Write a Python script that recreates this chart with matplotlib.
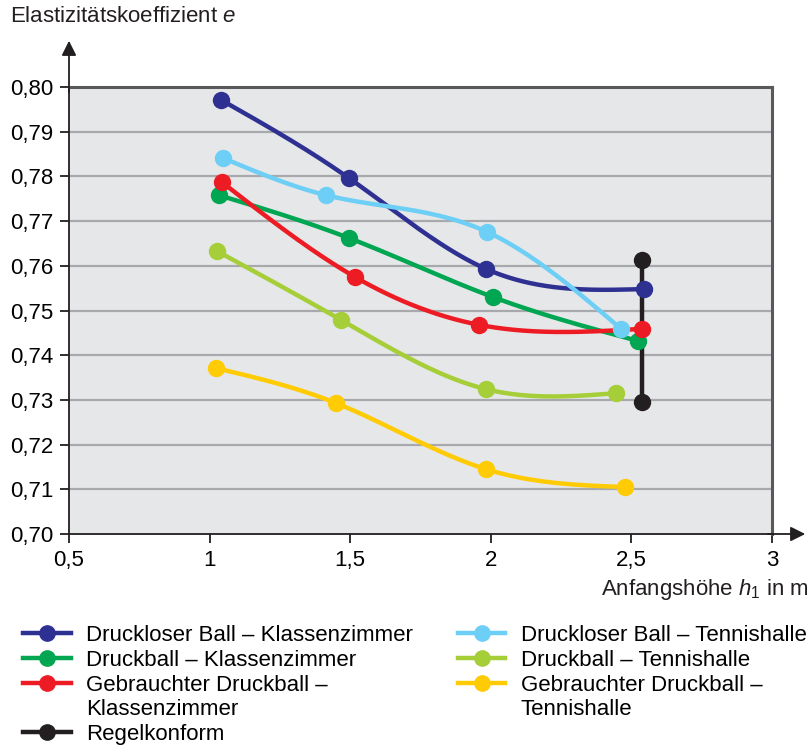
import numpy as np
import matplotlib
matplotlib.use("Agg")
import matplotlib.pyplot as plt
from matplotlib.lines import Line2D

plt.rcParams['font.family'] = ['Liberation Sans', 'DejaVu Sans']
plt.rcParams['mathtext.fontset'] = 'custom'
plt.rcParams['mathtext.rm'] = 'Liberation Sans'
plt.rcParams['mathtext.it'] = 'Liberation Sans:italic'

# data
labels = ["Druckloser Ball – Klassenzimmer",
          "Druckball – Klassenzimmer",
          "Gebrauchter Druckball –",
          "Regelkonform",
          "Druckloser Ball – Tennishalle",
          "Druckball – Tennishalle",
          "Gebrauchter Druckball –"]
label_cont = {2: "Klassenzimmer", 6: "Tennishalle"}
colors = ["#2e3192", "#00a651", "#ed1c24", "#231f20", "#6dcff6", "#a6ce39", "#ffcb05"]

x_blue = [1.041, 1.496, 1.983, 2.545]
y_blue = [0.7971, 0.7796, 0.7593, 0.7548]
x_green = [1.033, 1.496, 2.008, 2.523]
y_green = [0.7758, 0.7662, 0.7530, 0.7432]
x_red = [1.044, 1.517, 1.958, 2.538]
y_red = [0.7787, 0.7575, 0.7468, 0.7459]
x_black = [2.538, 2.538]
y_black = [0.7295, 0.7613]
x_lblue = [1.048, 1.414, 1.986, 2.463]
y_lblue = [0.7841, 0.7758, 0.7676, 0.7459]
x_lime = [1.026, 1.467, 1.983, 2.445]
y_lime = [0.7633, 0.7479, 0.7324, 0.7315]
x_yellow = [1.023, 1.449, 1.983, 2.477]
y_yellow = [0.7371, 0.7293, 0.7145, 0.7105]

xs = [x_blue, x_green, x_red, x_black, x_lblue, x_lime, x_yellow]
ys = [y_blue, y_green, y_red, y_black, y_lblue, y_lime, y_yellow]

xticks = [0.5, 1, 1.5, 2, 2.5, 3]
xticklabels = ["0,5", "1", "1,5", "2", "2,5", "3"]
yticks = np.round(np.arange(0.70, 0.801, 0.01), 2)

FS = 16


def smooth(x, y, n=200):
    # natural cubic spline for drawing the curve through the points
    x = np.asarray(x, float)
    y = np.asarray(y, float)
    if len(x) < 3 or np.ptp(x) == 0:
        return x, y
    h = np.diff(x)
    m = len(x)
    A = np.zeros((m, m))
    b = np.zeros(m)
    A[0, 0] = A[-1, -1] = 1
    for i in range(1, m - 1):
        A[i, i - 1] = h[i - 1]
        A[i, i] = 2 * (h[i - 1] + h[i])
        A[i, i + 1] = h[i]
        b[i] = 6 * ((y[i + 1] - y[i]) / h[i] - (y[i] - y[i - 1]) / h[i - 1])
    M = np.linalg.solve(A, b)
    xx = np.linspace(x[0], x[-1], n)
    k = np.clip(np.searchsorted(x, xx) - 1, 0, m - 2)
    t0 = x[k + 1] - xx
    t1 = xx - x[k]
    hk = h[k]
    yy = (M[k] * t0 ** 3 / (6 * hk) + M[k + 1] * t1 ** 3 / (6 * hk)
          + (y[k] / hk - M[k] * hk / 6) * t0 + (y[k + 1] / hk - M[k + 1] * hk / 6) * t1)
    return xx, yy


fig = plt.figure(figsize=(8.12, 7.49), dpi=100)
ax = fig.add_axes([69 / 812, 1 - 534 / 749, (772 - 69) / 812, (534 - 87) / 749])
ax.set_facecolor("#e6e7e8")
ax.set_xlim(0.5, 3)
ax.set_ylim(0.70, 0.80)

for yv in yticks[1:-1]:
    ax.axhline(yv, color="#a7a9ac", lw=1.6, zorder=1)

for s in ["top", "right"]:
    ax.spines[s].set_color("#58595b")
    ax.spines[s].set_linewidth(2.2)
for s in ["left", "bottom"]:
    ax.spines[s].set_color("#231f20")
    ax.spines[s].set_linewidth(1.3)

handles = []
names = []
for i, (x, y, c, lab) in enumerate(zip(xs, ys, colors, labels)):
    sx, sy = smooth(x, y)
    ax.plot(sx, sy, color=c, lw=3.2, zorder=3, solid_capstyle="round", clip_on=False)
    ax.plot(x, y, "o", color=c, ms=11.5, zorder=4, clip_on=False)
    handles.append(Line2D([], [], color=c, lw=3.2, marker="o", ms=11))
    names.append(lab)
    if i in label_cont:
        handles.append(Line2D([], [], color="none"))
        names.append(label_cont[i])

ax.set_xticks(xticks)
ax.set_xticklabels(xticklabels)
ax.set_yticks(yticks)
ax.set_yticklabels([f"{v:.2f}".replace(".", ",") for v in yticks])
ax.tick_params(axis="both", length=6.5, width=1.3, color="#231f20", labelsize=FS, pad=5)

# axis arrows
ax.annotate("", xy=(808 / 812, 1 - 534 / 749), xytext=(765 / 812, 1 - 534 / 749),
            xycoords="figure fraction",
            arrowprops=dict(arrowstyle="-|>", color="#231f20", lw=1.3, mutation_scale=22))
ax.annotate("", xy=(69 / 812, 1 - 38 / 749), xytext=(69 / 812, 1 - 95 / 749),
            xycoords="figure fraction",
            arrowprops=dict(arrowstyle="-|>", color="#231f20", lw=1.3, mutation_scale=22))

fig.text(10 / 812, 1 - 17 / 749, r"Elastizitätskoeffizient $e$", fontsize=FS,
         ha="left", va="center", color="#231f20")
fig.text(809 / 812, 1 - 590 / 749, r"Anfangshöhe $h_1$ in m", fontsize=FS,
         ha="right", va="center", color="#231f20")

fig.legend(handles=handles, labels=names, ncol=2, loc="upper left",
           bbox_to_anchor=(23 / 812, 1 - 625 / 749), frameon=False, fontsize=FS,
           handlelength=2.15, handletextpad=0.7, columnspacing=2.0, labelspacing=0.17,
           borderaxespad=0, borderpad=0)

fig.savefig("out.png", dpi=100)
